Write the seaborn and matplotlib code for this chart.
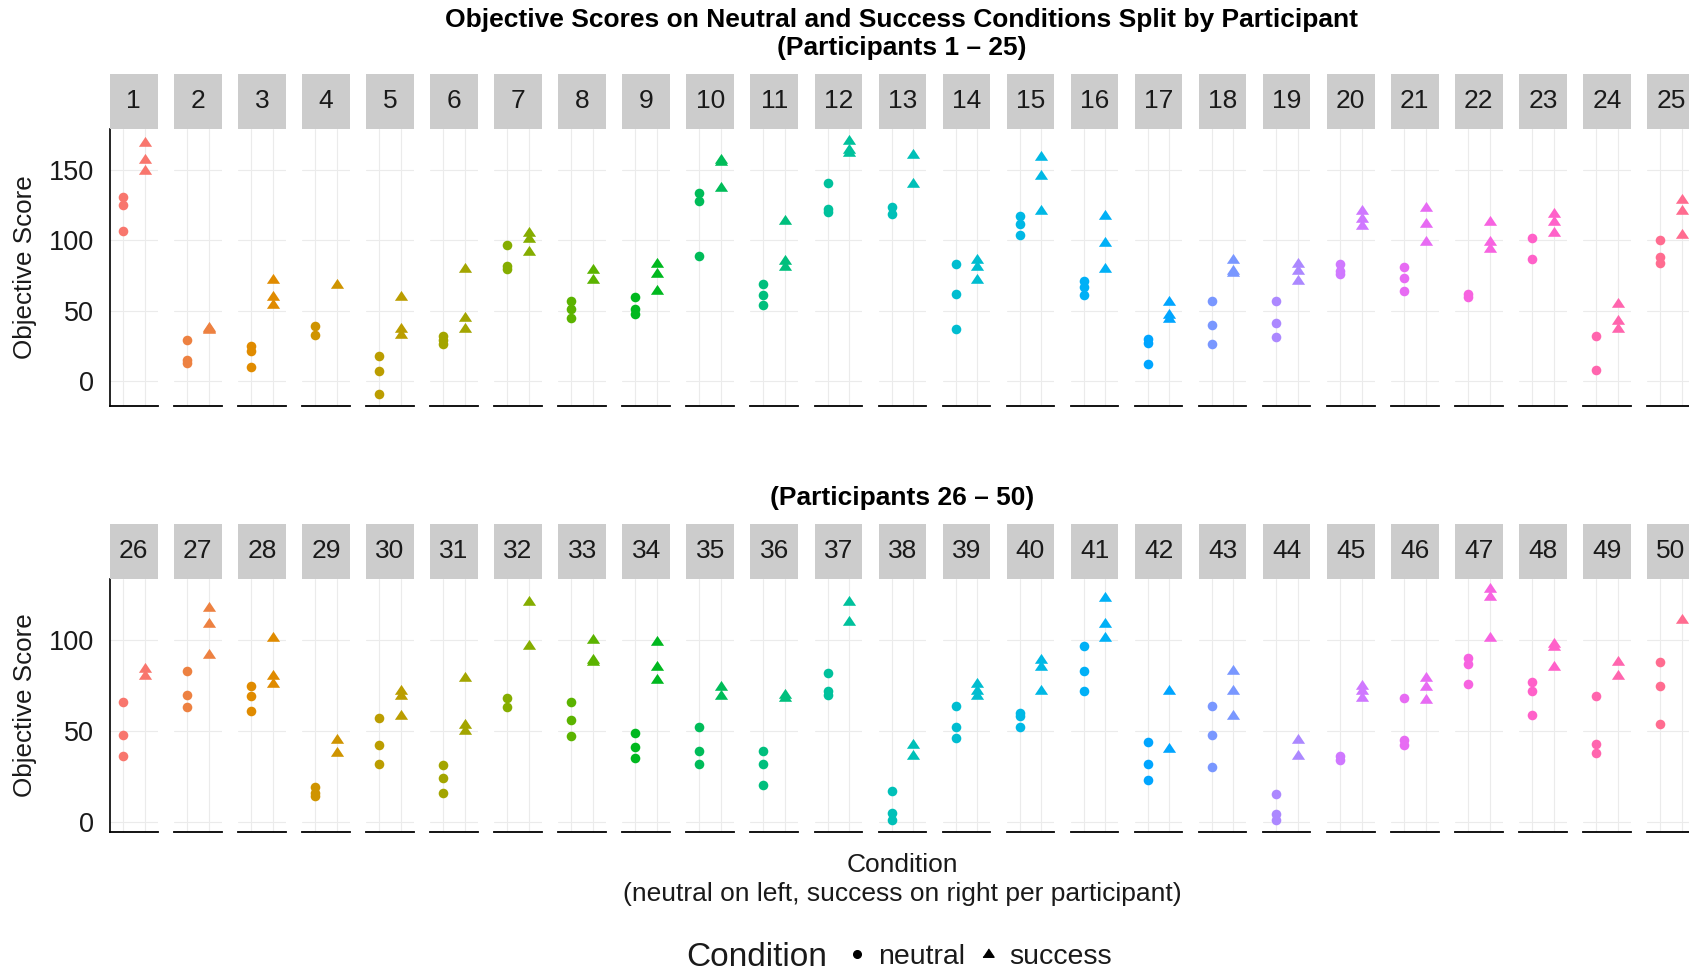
import numpy as np
import pandas as pd
import matplotlib
matplotlib.use("Agg")
import matplotlib.pyplot as plt
import seaborn as sns
from matplotlib.lines import Line2D

# ---------------- data ----------------
participants_top = list(range(1, 26))
participants_bottom = list(range(26, 51))

neutral_top = [
    [131, 125, 107], [29, 15, 13], [25, 21, 10], [39, 33], [18, 7, -9],
    [32, 29, 26], [97, 82, 80], [57, 51, 45], [60, 51, 48], [134, 128, 89],
    [69, 61, 54], [141, 122, 120], [124, 119], [83, 62, 37], [117, 112, 104],
    [71, 67, 61], [30, 27, 12], [57, 40, 26], [57, 41, 31], [83, 78, 76],
    [81, 73, 64], [62, 60], [102, 87], [32, 8], [100, 88, 84],
]
success_top = [
    [169, 157, 149], [38, 37, 36], [72, 60, 54], [68], [60, 37, 33],
    [80, 45, 37], [105, 101, 92], [79, 72], [83, 76, 64], [157, 156, 137],
    [114, 85, 81], [171, 164, 162], [161, 140], [86, 81, 72], [159, 146, 121],
    [117, 98, 80], [56, 47, 44], [86, 78, 77], [83, 78, 71], [121, 115, 110],
    [123, 112, 99], [113, 99, 94], [119, 113, 105], [55, 43, 37], [129, 121, 104],
]
neutral_bottom = [
    [66, 48, 36], [83, 70, 63], [75, 69, 61], [19, 16, 14], [57, 42, 32],
    [31, 24, 16], [68, 63], [66, 56, 47], [49, 41, 35], [52, 39, 32],
    [39, 32, 20], [82, 72, 70], [17, 5, 1], [64, 52, 46], [60, 58, 52],
    [97, 83, 72], [44, 32, 23], [64, 48, 30], [15, 4, 1], [36, 34],
    [68, 45, 42], [90, 87, 76], [77, 72, 59], [69, 43, 38], [88, 75, 54],
]
success_bottom = [
    [84, 80], [118, 109, 92], [101, 80, 76], [45, 38], [72, 69, 58],
    [79, 53, 50], [121, 97], [100, 89, 88], [99, 85, 78], [74, 69],
    [70, 68], [121, 110], [42, 36], [76, 72, 69], [89, 85, 72],
    [123, 109, 101], [72, 40], [83, 72, 58], [45, 36], [75, 72, 68],
    [79, 74, 67], [128, 124, 101], [98, 96, 85], [88, 80], [111],
]
conditions = ["neutral", "success"]
yticks_top = [0, 50, 100, 150]
yticks_bottom = [0, 50, 100]

title_line1 = "Objective Scores on Neutral and Success Conditions Split by Participant"
title_top = "(Participants 1 \u2013 25)"
title_bottom = "(Participants 26 \u2013 50)"
y_label = "Objective Score"
x_label_1 = "Condition"
x_label_2 = "(neutral on left, success on right per participant)"


# ---------------- helpers ----------------
def hcl_hex(h, c=100.0, l=65.0):
    hr = np.deg2rad(h)
    U, V = c * np.cos(hr), c * np.sin(hr)
    Y = ((l + 16) / 116) ** 3
    Xn, Yn, Zn = 0.95047, 1.0, 1.08883
    den = Xn + 15 * Yn + 3 * Zn
    un, vn = 4 * Xn / den, 9 * Yn / den
    u = U / (13 * l) + un
    v = V / (13 * l) + vn
    X = 9 * Y * u / (4 * v)
    Z = 3 * Y / v - X / 3 - 5 * Y
    M = np.array([[3.240479, -1.537150, -0.498535],
                  [-0.969256, 1.875992, 0.041556],
                  [0.055648, -0.204043, 1.057311]])
    lin = M @ np.array([X, Y, Z])
    rgb = np.where(lin <= 0.0031308, 12.92 * lin, 1.055 * np.abs(lin) ** (1 / 2.4) - 0.055)
    rgb = np.clip(rgb, 0, 1)
    return rgb


hues = np.linspace(15, 375, 26)[:25]
palette = [hcl_hex(h) for h in hues]

rows = []
for part_list, neu, suc in ((participants_top, neutral_top, success_top),
                            (participants_bottom, neutral_bottom, success_bottom)):
    for p, nv, sv in zip(part_list, neu, suc):
        for v in nv:
            rows.append((p, "neutral", 1, v))
        for v in sv:
            rows.append((p, "success", 2, v))
df = pd.DataFrame(rows, columns=["participant", "condition", "xpos", "score"])

# ---------------- style ----------------
sns.set_theme(style="white")
plt.rcParams["font.family"] = ["Liberation Sans", "DejaVu Sans"]
TXT = "#1A1A1A"

W, H = 1690, 974
fig = plt.figure(figsize=(W / 100, H / 100), dpi=100)


def px_axes(x0, y0, w, h):
    return fig.add_axes([x0 / W, 1 - (y0 + h) / H, w / W, h / H])


tri = [(-1, -0.5), (1, -0.5), (0, 1)]

left0, step, pw = 110.0, 64.05, 47.6
rows_cfg = [
    dict(parts=participants_top, strip_top=74, panel_top=129, panel_bot=405.5,
         ylim=(-17.4, 179.2), yticks=yticks_top),
    dict(parts=participants_bottom, strip_top=524, panel_top=578.5, panel_bot=832,
         ylim=(-5.7, 134.0), yticks=yticks_bottom),
]

for cfg in rows_cfg:
    ph = cfg["panel_bot"] - cfg["panel_top"]
    sh = cfg["panel_top"] - cfg["strip_top"]
    for i, p in enumerate(cfg["parts"]):
        x0 = left0 + i * step
        ax = px_axes(x0, cfg["panel_top"], pw, ph)
        col = palette[i]
        sub = df[df["participant"] == p]
        sns.scatterplot(data=sub[sub["condition"] == "neutral"], x="xpos", y="score",
                        color=col, marker="o", s=48, linewidth=0, ax=ax,
                        legend=False, zorder=3, clip_on=False)
        sns.scatterplot(data=sub[sub["condition"] == "success"], x="xpos", y="score",
                        color=col, marker=tri, s=90, linewidth=0, ax=ax,
                        legend=False, zorder=3, clip_on=False)
        ax.set_xlim(0.4, 2.6)
        ax.set_ylim(*cfg["ylim"])
        ax.set_xticks([1, 2])
        ax.set_yticks(cfg["yticks"])
        ax.set_facecolor("white")
        ax.grid(True, color="#EBEBEB", linewidth=0.8)
        ax.set_axisbelow(True)
        ax.set_xlabel("")
        ax.set_ylabel("")
        ax.tick_params(length=0, labelbottom=False, pad=11.5, labelsize=19.5,
                       labelcolor=TXT)
        for sp in ("top", "right"):
            ax.spines[sp].set_visible(False)
        ax.spines["bottom"].set_color("black")
        ax.spines["bottom"].set_linewidth(1.3)
        if i == 0:
            ax.spines["left"].set_color("black")
            ax.spines["left"].set_linewidth(1.2)
            ax.set_ylabel(y_label, fontsize=18.7, color=TXT)
            ax.yaxis.set_label_coords((37 - x0) / pw, 0.5)
        else:
            ax.spines["left"].set_visible(False)
            ax.tick_params(labelleft=False)
        # strip
        sax = px_axes(x0, cfg["strip_top"], pw, sh)
        sax.set_facecolor("#CCCCCC")
        sax.set_xticks([])
        sax.set_yticks([])
        for sp in sax.spines.values():
            sp.set_visible(False)
        sax.text(0.5, 0.5, str(p), ha="center", va="center", fontsize=19,
                 color=TXT, transform=sax.transAxes)

cx = 902 / W
fig.text(cx, 1 - 19.5 / H, title_line1, ha="center", va="center",
         fontsize=19, fontweight="bold", color="black")
fig.text(cx, 1 - 48.5 / H, title_top, ha="center", va="center",
         fontsize=19, fontweight="bold", color="black")
fig.text(cx, 1 - 498 / H, title_bottom, ha="center", va="center",
         fontsize=19, fontweight="bold", color="black")
fig.text(cx, 1 - 864.5 / H, x_label_1, ha="center", va="center",
         fontsize=19, color=TXT)
fig.text(cx, 1 - 893.5 / H, x_label_2, ha="center", va="center",
         fontsize=19, color=TXT)

# legend
fig.text(686.6 / W, 1 - 957 / H, "Condition", ha="left", va="center",
         fontsize=24, color=TXT)
handles = [Line2D([], [], ls="", marker="o", color="black", markersize=5.5),
           Line2D([], [], ls="", marker=tri, color="black", markersize=8)]
fig.legend(handles, conditions, loc="center left",
           bbox_to_anchor=(843 / W, 1 - 957 / H), ncol=2, frameon=False,
           fontsize=20.5, handlelength=1.0, handletextpad=0.23,
           columnspacing=0.31, borderpad=0, borderaxespad=0, labelcolor=TXT)

fig.savefig("out.png", dpi=100)
